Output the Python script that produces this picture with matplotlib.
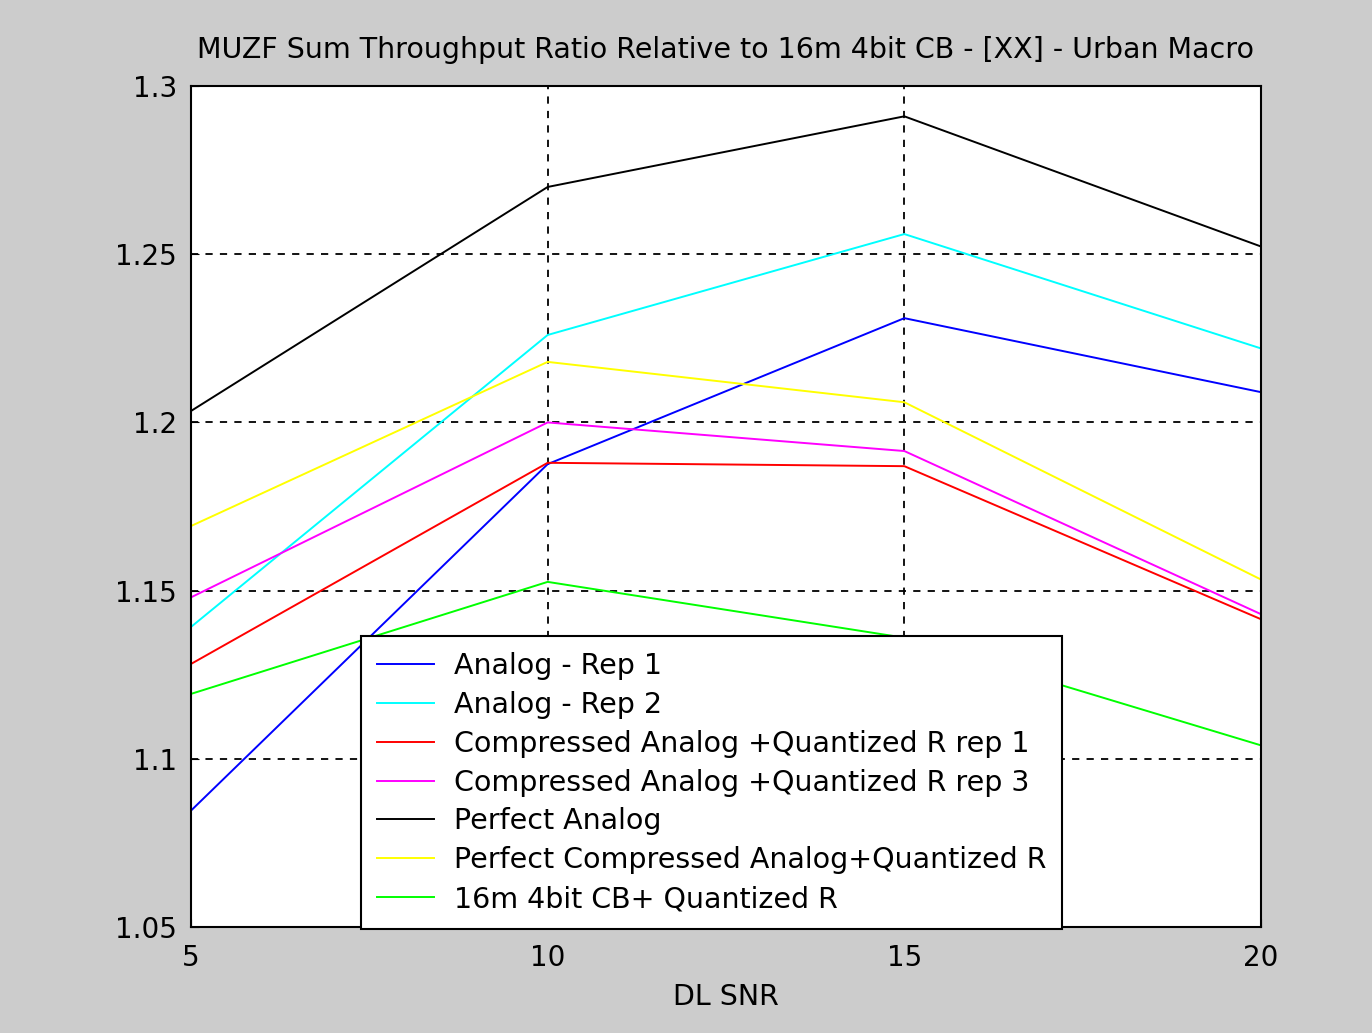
import matplotlib.pyplot as plt

# DL SNR points
snr = [5, 10, 15, 20]

analog_rep1 = [1.0846, 1.1876, 1.2310, 1.2090]
analog_rep2 = [1.1392, 1.2260, 1.2560, 1.2220]
comp_rep1 = [1.1282, 1.1880, 1.1870, 1.1415]
comp_rep3 = [1.1480, 1.2000, 1.1915, 1.1430]
perfect_analog = [1.2034, 1.2700, 1.2910, 1.2523]
perfect_comp = [1.1692, 1.2180, 1.2060, 1.1533]
cb_quant = [1.1193, 1.1526, 1.1360, 1.1040]

labels = ['Analog - Rep 1', 'Analog - Rep 2',
          'Compressed Analog +Quantized R rep 1',
          'Compressed Analog +Quantized R rep 3',
          'Perfect Analog',
          'Perfect Compressed Analog+Quantized R',
          '16m 4bit CB+ Quantized R']
colors = ['#0000ff', '#00ffff', '#ff0000', '#ff00ff', '#000000', '#ffff00', '#00ff00']
xticks = [5, 10, 15, 20]
yticks = [1.05, 1.1, 1.15, 1.2, 1.25, 1.3]
ytick_labels = ['1.05', '1.1', '1.15', '1.2', '1.25', '1.3']

plt.rcParams['font.family'] = ['DejaVu Sans']

fig = plt.figure(figsize=(13.72, 10.33), dpi=100, facecolor='#cccccc')
ax = fig.add_axes([0.1392, 0.1026, 0.7799, 0.8141])
ax.set_facecolor('white')

series = [analog_rep1, analog_rep2, comp_rep1, comp_rep3,
          perfect_analog, perfect_comp, cb_quant]
for vals, lab, col in zip(series, labels, colors):
    ax.plot(snr, vals, color=col, lw=1.4, label=lab)

ax.set_xlim(5, 20)
ax.set_ylim(1.05, 1.3)
ax.set_xticks(xticks)
ax.set_yticks(yticks)
ax.set_yticklabels(ytick_labels)
ax.grid(True, color='black', linestyle=(0, (4, 4)), lw=1.3)
ax.tick_params(direction='in', labelsize=20, length=6)
ax.tick_params(axis='x', pad=12)
ax.tick_params(axis='y', pad=10)
for s in ax.spines.values():
    s.set_linewidth(1.5)

ax.set_title('MUZF Sum Throughput Ratio Relative to 16m 4bit CB - [XX] - Urban Macro',
             fontsize=20.5, pad=20)
ax.set_xlabel('DL SNR', fontsize=20.5, labelpad=8)

leg = ax.legend(loc='lower left', bbox_to_anchor=(0.159, -0.002), fontsize=20.5,
                frameon=True, fancybox=False, framealpha=1, edgecolor='black',
                handlelength=2.0, handletextpad=0.7, labelspacing=0.38,
                borderpad=0.55, borderaxespad=0)
leg.get_frame().set_linewidth(1.5)

fig.savefig('out.png', dpi=100, facecolor=fig.get_facecolor())
